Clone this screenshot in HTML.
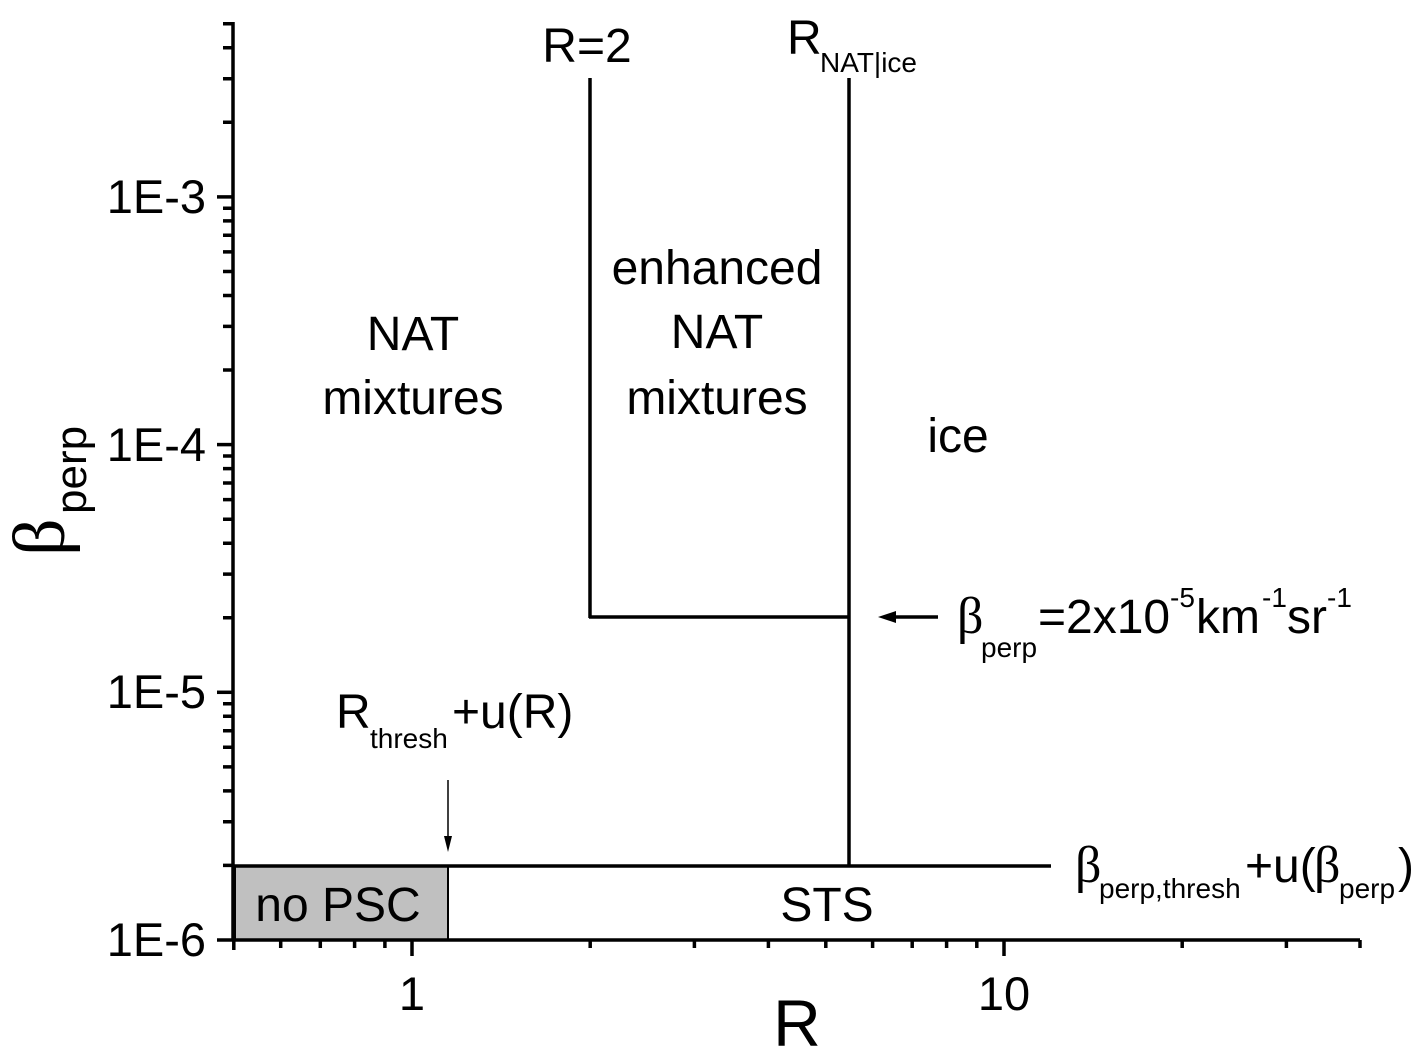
<!DOCTYPE html>
<html><head><meta charset="utf-8"><style>
html,body{margin:0;padding:0;background:#fff;}
svg{display:block;}
text{font-family:"Liberation Sans",Arial,sans-serif;fill:#000;}
.b{font-family:"Liberation Serif",serif;}
</style></head><body>
<svg width="1428" height="1056" viewBox="0 0 1428 1056" xmlns="http://www.w3.org/2000/svg">
<rect x="235" y="866" width="213" height="74" fill="#c0c0c0" stroke="#000" stroke-width="2"/>
<g stroke="#000" stroke-width="3.5" fill="none">
<line x1="233" y1="22" x2="233" y2="941"/>
<line x1="232" y1="940" x2="1360" y2="940"/>
<line x1="217" y1="940" x2="233" y2="940"/>
<line x1="217" y1="692.3" x2="233" y2="692.3"/>
<line x1="217" y1="444.6" x2="233" y2="444.6"/>
<line x1="217" y1="196.9" x2="233" y2="196.9"/>
<path d="M223 865.4H233M223 821.8H233M223 790.9H233M223 766.9H233M223 747.3H233M223 730.7H233M223 716.3H233M223 703.7H233
M223 617.7H233M223 574.1H233M223 543.2H233M223 519.2H233M223 499.6H233M223 483H233M223 468.6H233M223 456H233
M223 370H233M223 326.4H233M223 295.5H233M223 271.5H233M223 251.9H233M223 235.3H233M223 220.9H233M223 208.3H233
M223 122.3H233M223 78.7H233M223 47.8H233M223 23.8H233"/>
<path d="M233.8 940V950M280.7 940V948M320.3 940V948M354.6 940V948M384.9 940V948M412 940V956
M590.2 940V948M694.4 940V948M768.4 940V948M825.8 940V948M872.6 940V948M912.2 940V948M946.6 940V948M976.8 940V948M1004 940V956
M1182.2 940V948M1286.4 940V948M1360 940V948"/>
<line x1="590" y1="78" x2="590" y2="618"/>
<line x1="589" y1="617" x2="849" y2="617"/>
<line x1="849" y1="78" x2="849" y2="867"/>
<line x1="233" y1="866" x2="1051" y2="866"/>
<line x1="938" y1="617" x2="892" y2="617"/>
<line x1="448" y1="780" x2="448" y2="840" stroke-width="1.5"/>
</g>
<polygon points="878,617 896,611 896,623" fill="#000"/>
<polygon points="448,852 444,836 452,836" fill="#000"/>
<g font-size="47">
<text x="206" y="213" text-anchor="end">1E-3</text>
<text x="206" y="461" text-anchor="end">1E-4</text>
<text x="206" y="708" text-anchor="end">1E-5</text>
<text x="206" y="956" text-anchor="end">1E-6</text>
<text x="412" y="1010" text-anchor="middle">1</text>
<text x="1004" y="1010" text-anchor="middle">10</text>
</g>
<text x="797" y="1046" font-size="66" text-anchor="middle">R</text>
<g transform="translate(64,556) rotate(-90)">
<text x="0" y="0" font-size="74" class="b">β</text>
<text x="42" y="22" font-size="44">perp</text>
</g>
<g font-size="48" text-anchor="middle">
<text x="587" y="62">R=2</text>
<text x="413" y="350">NAT</text>
<text x="413" y="414">mixtures</text>
<text x="717" y="284">enhanced</text>
<text x="717" y="348">NAT</text>
<text x="717" y="414">mixtures</text>
<text x="958" y="452">ice</text>
<text x="827" y="921">STS</text>
<text x="338" y="921">no PSC</text>
</g>
<text x="787" y="54" font-size="48">R</text>
<text x="820" y="72" font-size="28">NAT|ice</text>
<text x="336" y="728" font-size="48">R</text>
<text x="370" y="748" font-size="28">thresh</text>
<text x="452" y="728" font-size="48">+u(R)</text>
<text x="957" y="633" font-size="52" class="b">β</text>
<text x="981" y="657" font-size="28">perp</text>
<text x="1038" y="633" font-size="48">=2x10</text>
<text x="1170" y="607" font-size="28">-5</text>
<text x="1196" y="633" font-size="48">km</text>
<text x="1262" y="607" font-size="28">-1</text>
<text x="1287" y="633" font-size="48">sr</text>
<text x="1327" y="607" font-size="28">-1</text>
<text x="1075" y="882" font-size="52" class="b">β</text>
<text x="1099" y="898" font-size="28">perp,thresh</text>
<text x="1245" y="882" font-size="48">+u(</text>
<text x="1314" y="882" font-size="52" class="b">β</text>
<text x="1339" y="898" font-size="28">perp</text>
<text x="1398" y="882" font-size="48">)</text>
</svg>
</body></html>
